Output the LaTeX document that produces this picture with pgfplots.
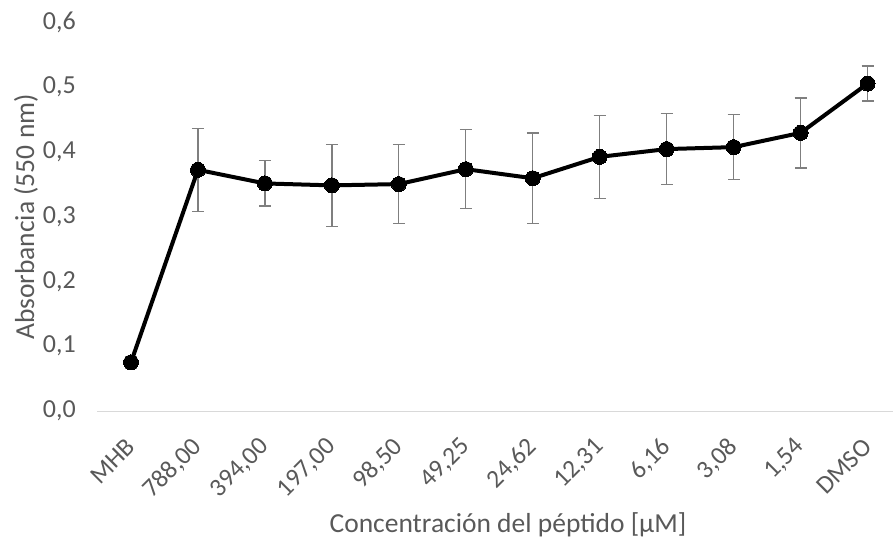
\documentclass[border=0pt]{standalone}
\usepackage{pgfplots}
\pgfplotsset{compat=1.18}
\usepackage{fontspec}
\setmainfont{Carlito}
\definecolor{txt}{HTML}{595959}
\definecolor{axl}{HTML}{D9D9D9}
\definecolor{errc}{HTML}{7F7F7F}
\begin{document}
\begin{tikzpicture}
\begin{axis}[
  at={(0pt,0pt)}, anchor=south west,
  scale only axis,
  width=795.5pt, height=389pt,
  xmin=-0.5, xmax=11.38,
  ymin=0, ymax=0.6,
  axis y line=none,
  axis x line*=bottom,
  x axis line style={axl, line width=1pt, -},
  xtick={0,...,11},
  xticklabels={MHB,{788,00},{394,00},{197,00},{98,50},{49,25},{24,62},{12,31},{6,16},{3,08},{1,54},DMSO},
  xtick style={draw=none},
  xticklabel style={xshift=0pt, yshift=-32pt, rotate=45, anchor=east, inner sep=0pt, text=txt, font=\fontsize{25.5}{30}\selectfont},
  ytick={0,0.1,0.2,0.3,0.4,0.5,0.6},
  clip=false,
]
\foreach \v/\l in {0/{0,0},0.1/{0,1},0.2/{0,2},0.3/{0,3},0.4/{0,4},0.5/{0,5},0.6/{0,6}}{
  \edef\tmp{\noexpand\node[anchor=east, inner sep=0pt, text=txt, font=\noexpand\fontsize{26}{30}\noexpand\selectfont] at (axis cs:-0.5,\v) [xshift=-21.5pt] {\l};}
  \tmp
}
\addplot[black, line width=4pt, mark=*, mark size=7.5pt, mark options={solid, fill=black, line width=0pt},
  error bars/.cd, y dir=both, y explicit,
  error bar style={errc, line width=1.3pt},
  error mark options={errc, line width=1.3pt, rotate=90, mark size=6pt}]
coordinates {
(0,0.075) +- (0,0.009)
(1,0.372) +- (0,0.064)
(2,0.351) +- (0,0.035)
(3,0.348) +- (0,0.063)
(4,0.350) +- (0,0.061)
(5,0.373) +- (0,0.061)
(6,0.359) +- (0,0.070)
(7,0.392) +- (0,0.064)
(8,0.404) +- (0,0.055)
(9,0.407) +- (0,0.050)
(10,0.429) +- (0,0.054)
(11,0.505) +- (0,0.027)
};
\end{axis}
\node[rotate=90, text=txt, font=\fontsize{27.5}{32}\selectfont] at (-71.5pt,194pt) {Absorbancia (550 nm)};
\node[anchor=base, text=txt, font=\fontsize{27.5}{32}\selectfont] at (410.5pt,-121pt) {Concentración del péptido [µM]};
\pgfresetboundingbox
\path[use as bounding box] (-97.5pt,-128pt) rectangle (795.5pt,411pt);
\end{tikzpicture}
\end{document}
